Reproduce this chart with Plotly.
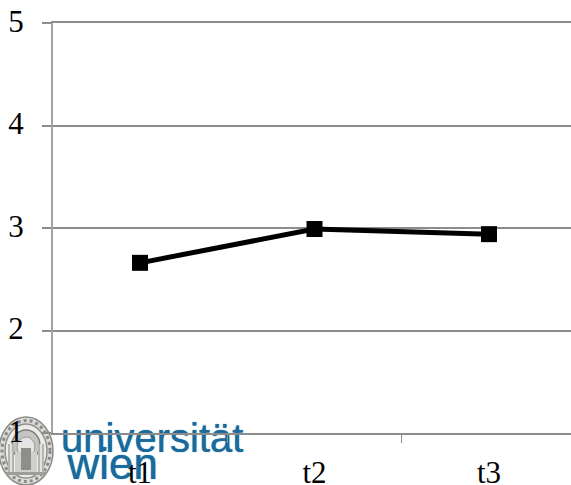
import plotly.graph_objects as go

categories = ["t1", "t2", "t3"]
values = [2.66, 2.99, 2.94]
y_ticks = [1, 2, 3, 4, 5]

WIDTH, HEIGHT = 571, 485
LEFT, TOP, BOTTOM = 53, 23, 52
X_RANGE = [-0.4986, 2.47]
Y_RANGE = [1, 5]
GRID = "#8c8c8c"
AXIS = "#a3a3a3"
BLUE = "#1b6a9c"
SERIF = "Liberation Serif, Times New Roman, serif"


def data_x(px):
    return X_RANGE[0] + (px - LEFT) / (WIDTH - LEFT) * (X_RANGE[1] - X_RANGE[0])


def data_y(py):
    return Y_RANGE[1] - (py - TOP) / (HEIGHT - TOP - BOTTOM) * (Y_RANGE[1] - Y_RANGE[0])


def paper_x(px):
    return (px - LEFT) / (WIDTH - LEFT)


def paper_y(py):
    return 1 - (py - TOP) / (HEIGHT - TOP - BOTTOM)


positions = list(range(len(categories)))
fig = go.Figure()

# University wordmark, sitting under the axis line and tick labels.
# The invisible markers push the lower word further below its anchor,
# because anchors outside the axis range would not be drawn.
fig.add_trace(go.Scatter(
    x=[data_x(60), data_x(54)],
    y=[data_y(421), data_y(432)],
    mode="markers+text",
    marker=dict(size=[0.1, 20], opacity=0, color=BLUE),
    text=["universität", "wien"],
    textposition="bottom right",
    textfont=dict(
        family="Liberation Sans, Arial, sans-serif",
        color=[BLUE, BLUE],
        size=[40, 44],
        shadow=f"0 0 1px {BLUE}",
    ),
    hoverinfo="skip",
    cliponaxis=False,
    showlegend=False,
))

fig.add_trace(go.Scatter(
    x=positions,
    y=values,
    mode="lines+markers",
    line=dict(color="#000000", width=5),
    marker=dict(symbol="square", size=16, color="#000000"),
    showlegend=False,
))


def disc(cx, cy, rx, ry, color, line="rgba(0,0,0,0)", width=0, dash="solid"):
    return dict(
        type="circle", xref="paper", yref="paper", layer="below",
        x0=paper_x(cx - rx), x1=paper_x(cx + rx),
        y0=paper_y(cy + ry), y1=paper_y(cy - ry),
        fillcolor=color, line=dict(color=line, width=width, dash=dash),
    )


def box(x0, y0, x1, y1, color):
    return dict(
        type="rect", xref="paper", yref="paper", layer="below",
        x0=paper_x(x0), x1=paper_x(x1),
        y0=paper_y(y1), y1=paper_y(y0),
        fillcolor=color, line=dict(width=0),
    )


# Seal beside the wordmark: beaded ring, inner field, arch and columns
seal = [
    disc(26, 451, 27, 34, "#dcdcda", "#8a8a88", 1.5),
    disc(26, 451, 24, 30.5, "rgba(0,0,0,0)", "#8a8a88", 3, "dot"),
    disc(26, 451, 21, 27, "#ececea", "#8f8f8d", 1.5),
    disc(26, 445, 14, 15, "#c4c4c1", "#7d7d7b", 1.5),
    disc(26, 447, 9, 10, "#e4e4e2", "#9a9a98", 1),
    box(8, 444, 14, 472, "#b4b4b1"),
    box(38, 444, 44, 472, "#b4b4b1"),
    box(10, 444, 12, 472, "#e2e2df"),
    box(40, 444, 42, 472, "#e2e2df"),
    box(15, 452, 37, 472, "#cfcfcc"),
    box(21, 448, 31, 470, "#8e8e8b"),
    box(6, 472, 46, 475, "#9d9d9a"),
]

fig.update_layout(
    width=WIDTH,
    height=HEIGHT,
    margin=dict(l=LEFT, r=0, t=TOP, b=BOTTOM, autoexpand=False),
    paper_bgcolor="#ffffff",
    plot_bgcolor="#ffffff",
    shapes=seal,
    xaxis=dict(
        range=X_RANGE,
        tickmode="array",
        tickvals=positions,
        ticktext=categories,
        ticks="",
        ticklabelstandoff=11,
        tickfont=dict(family=SERIF, size=31, color="#000000"),
        showgrid=False,
        zeroline=False,
        showline=True,
        mirror=True,
        linecolor=GRID,
        linewidth=2,
        layer="above traces",
        minor=dict(
            tickmode="array",
            tickvals=[p + 0.5 for p in positions],
            ticks="outside",
            ticklen=8,
            tickwidth=1,
            tickcolor=GRID,
            showgrid=False,
        ),
    ),
    yaxis=dict(
        range=Y_RANGE,
        tickmode="array",
        tickvals=y_ticks,
        ticks="outside",
        ticklen=9,
        tickwidth=2,
        tickcolor=GRID,
        ticklabelstandoff=12,
        ticklabelshift=-2,
        tickfont=dict(family=SERIF, size=31, color="#000000"),
        showgrid=True,
        gridcolor=GRID,
        gridwidth=2,
        zeroline=False,
        showline=True,
        linecolor=AXIS,
        linewidth=2,
        layer="above traces",
    ),
)

fig.write_html("out.html", config=dict(displayModeBar=False))
